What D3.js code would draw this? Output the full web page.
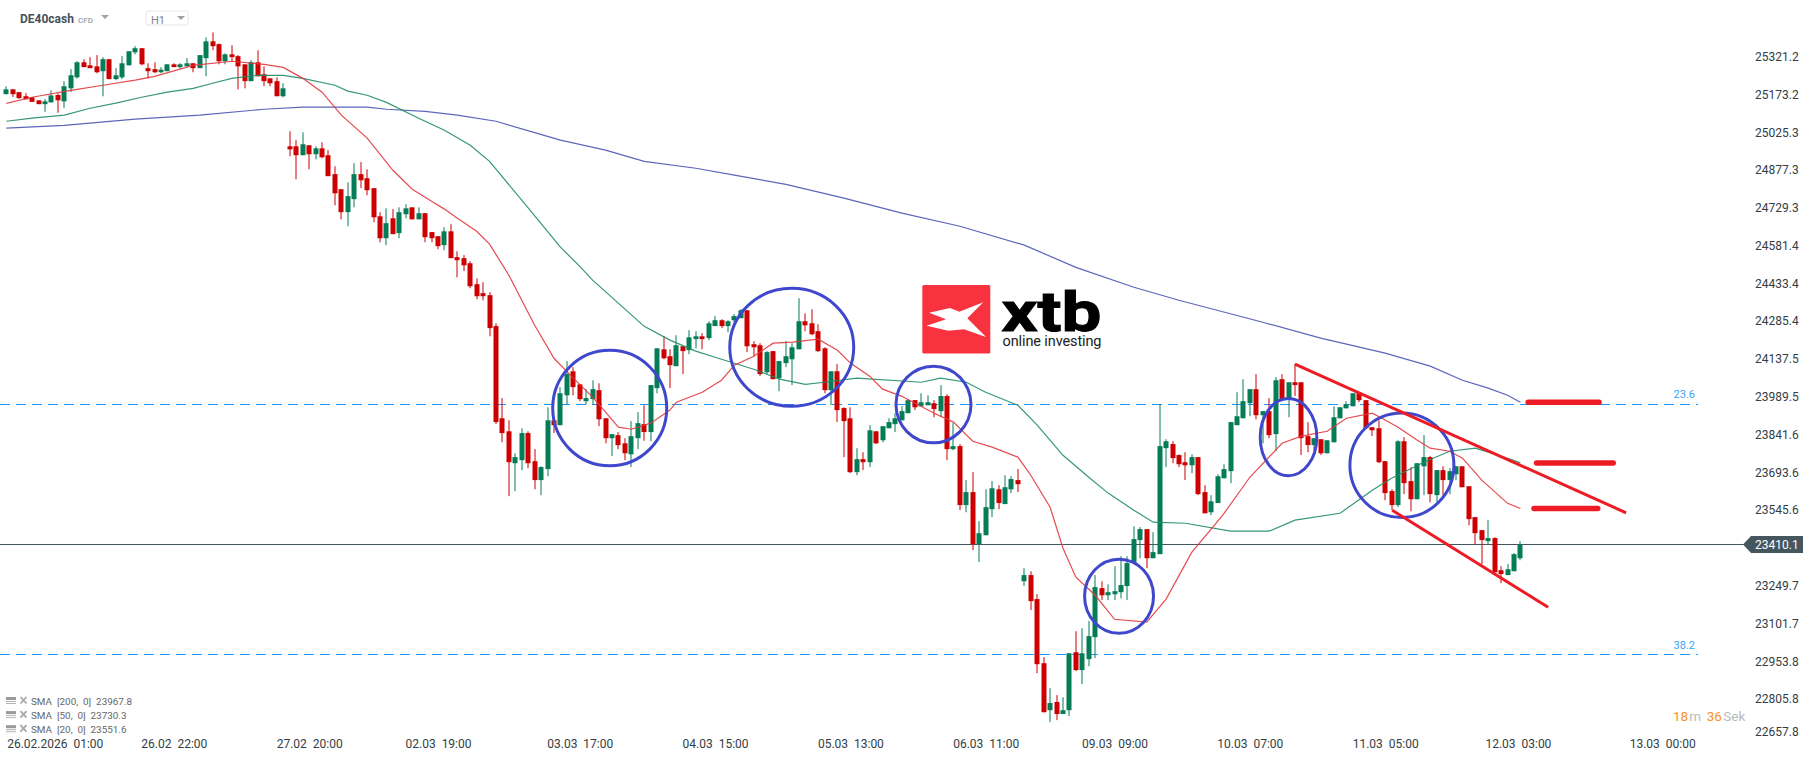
<!DOCTYPE html>
<html><head><meta charset="utf-8">
<script src="https://cdn.jsdelivr.net/npm/d3@7"></script>
<style>
html,body{margin:0;padding:0;background:#fff;overflow:hidden}
svg{display:block}
text{font-family:Roboto,"Noto Sans",sans-serif}
</style></head><body><div id="chart"></div>
<script>
const symbol="DE40cash";
const opens=[25174,25193,25182,25166,25162,25150,25135,25142,25171,25146,
25197,25240,25299,25287,25283,25264,25311,25233,25240,25287,
25338,25354,25276,25272,25260,25264,25291,25280,25283,25295,
25276,25315,25381,25370,25303,25330,25323,25291,25225,25299,
25252,25236,25225,25166,24970,24970,24935,24974,24939,24962,
24935,24861,24802,24712,24763,24861,24845,24806,24696,24610,
24688,24630,24704,24731,24684,24708,24634,24618,24583,24637,
24536,24532,24512,24430,24395,24387,24266,23905,23854,23729,
23741,23847,23737,23663,23706,23897,23878,23995,24089,24038,
23972,23980,24015,23905,23827,23839,23807,23764,23827,23882,
23851,24023,24175,24148,24109,24187,24172,24215,24226,24219,
24266,24289,24266,24289,24297,24328,24195,24191,24085,24168,
24062,24121,24136,24175,24285,24277,24246,24179,24015,24089,
23945,23905,23694,23745,23733,23854,23819,23866,23882,23897,
23925,23976,23952,23956,23964,23933,23992,23784,23796,23565,
23616,23412,23447,23549,23627,23569,23627,23663,23267,23291,
23197,22946,22762,22794,22747,22762,22989,22919,22962,23048,
23240,23212,23216,23224,23248,23338,23428,23471,23357,23373,
23788,23804,23761,23733,23721,23753,23616,23537,23573,23670,
23698,23878,23905,23964,24019,23917,23933,23843,24058,23984,
24046,24046,23835,23800,23823,23768,23811,23905,23944,23952,
24003,23976,23870,23866,23737,23620,23565,23815,23659,23588,
23717,23753,23604,23702,23663,23686,23717,23639,23518,23467,
23424,23436,23310,23291,23306,23357];
const highs=[25205,25193,25182,25178,25162,25150,25155,25189,25178,25225,
25272,25303,25311,25319,25327,25319,25311,25276,25323,25342,
25362,25354,25295,25299,25280,25291,25295,25295,25315,25295,
25327,25396,25416,25373,25334,25366,25327,25291,25307,25346,
25283,25236,25240,25217,25029,24994,25025,24974,24970,24986,
24955,24892,24802,24829,24904,24908,24880,24806,24712,24727,
24724,24731,24743,24731,24731,24708,24634,24618,24653,24665,
24559,24544,24520,24453,24438,24399,24277,23984,23897,23768,
23866,23854,23784,23717,23948,23897,24027,24129,24105,24038,
24019,24054,24042,23905,23843,23851,23827,23894,23929,23956,
24035,24179,24226,24175,24230,24187,24250,24246,24238,24285,
24305,24293,24289,24313,24332,24328,24207,24199,24168,24168,
24129,24207,24199,24375,24316,24332,24273,24183,24089,24117,
23948,23948,23788,23772,23878,23854,23874,23905,23925,23952,
23980,23976,24003,23995,23976,24035,23999,23886,23804,23663,
23694,23502,23627,23659,23643,23682,23678,23706,23318,23306,
23216,22970,22848,22821,22813,22985,23071,23083,23111,23291,
23267,23255,23326,23365,23365,23482,23479,23471,23459,23960,
23823,23815,23764,23772,23764,23753,23643,23604,23686,23725,
23890,24007,24058,24019,24078,23933,23984,24066,24078,24046,
24117,24046,23890,23827,23823,23819,23952,23948,23972,24003,
24003,23976,23870,23897,23737,23627,23819,23831,23713,23729,
23839,23757,23702,23717,23710,23717,23717,23639,23518,23467,
23506,23439,23326,23334,23377,23424];
const lows=[25174,25163,25155,25154,25144,25135,25105,25142,25101,25120,
25182,25235,25280,25276,25256,25166,25233,25229,25233,25287,
25330,25287,25236,25256,25256,25264,25280,25274,25283,25260,
25276,25244,25346,25291,25291,25303,25193,25197,25225,25244,
25205,25205,25166,25162,24931,24841,24935,24880,24919,24923,
24853,24739,24684,24657,24731,24806,24778,24673,24594,24583,
24626,24610,24688,24684,24684,24594,24594,24567,24563,24532,
24457,24481,24414,24371,24367,24226,23882,23811,23600,23620,
23702,23710,23627,23604,23678,23847,23878,23960,23995,23972,
23960,23960,23874,23807,23757,23784,23741,23714,23784,23817,
23815,24003,24136,24023,24109,24078,24156,24179,24175,24211,
24266,24258,24242,24281,24297,24164,24148,24070,24078,24058,
24011,24105,24035,24175,24246,24230,24164,24003,23956,23890,
23753,23690,23682,23702,23714,23804,23811,23866,23851,23897,
23925,23937,23952,23956,23909,23909,23741,23780,23545,23537,
23389,23342,23447,23518,23549,23569,23612,23616,23248,23154,
22907,22754,22715,22723,22747,22739,22915,22864,22934,22966,
23193,23193,23193,23200,23193,23338,23357,23318,23357,23373,
23714,23729,23714,23663,23690,23604,23533,23526,23573,23670,
23651,23878,23905,23913,23901,23807,23827,23776,23976,23909,
23992,23761,23772,23780,23761,23768,23811,23905,23944,23952,
23968,23866,23835,23729,23584,23545,23557,23608,23541,23588,
23604,23576,23576,23604,23608,23663,23635,23486,23412,23334,
23412,23302,23259,23291,23306,23349];
const closes=[25193,25174,25159,25154,25144,25135,25146,25169,25150,25205,
25248,25299,25280,25276,25260,25311,25233,25248,25295,25342,
25354,25291,25264,25260,25270,25291,25280,25291,25295,25276,
25327,25381,25362,25303,25330,25319,25283,25225,25299,25244,
25225,25217,25166,25197,24958,24935,24978,24939,24962,24927,
24853,24786,24712,24775,24861,24837,24798,24692,24610,24669,
24626,24712,24727,24684,24708,24614,24610,24579,24637,24532,
24524,24504,24422,24383,24383,24258,23890,23847,23733,23753,
23847,23729,23663,23714,23897,23878,24003,24078,24027,23980,
23984,24019,23901,23827,23843,23800,23768,23835,23886,23851,
24035,24179,24140,24113,24191,24168,24222,24226,24215,24277,
24289,24266,24285,24305,24328,24187,24183,24078,24164,24058,
24129,24148,24183,24285,24269,24234,24168,24015,24089,23937,
23894,23694,23745,23733,23858,23807,23874,23890,23905,23933,
23976,23948,23968,23968,23941,23992,23784,23796,23565,23616,
23412,23455,23557,23631,23573,23635,23667,23647,23291,23189,
22942,22754,22790,22747,22762,22985,22919,22985,23052,23244,
23212,23224,23228,23252,23338,23432,23471,23357,23381,23796,
23815,23749,23725,23721,23753,23608,23533,23580,23678,23706,
23890,23913,23972,24019,23917,23933,23839,24054,23980,24046,
24035,23827,23800,23827,23768,23819,23909,23948,23960,24003,
23976,23866,23858,23733,23612,23565,23815,23651,23588,23729,
23753,23608,23702,23663,23698,23717,23635,23510,23455,23428,
23436,23302,23295,23314,23373,23410.1];

const sma20Bars=[1,5,11,16,21,24,30,36,41,44,47,50,53,57,61,64,67,69,71,74,76,79,81,83,86,89,92,94,96,98,101,104,105,109,112,114,117,120,123,127,130,132,135,137,140,145,148,151,154,158,160,163,165,167,170,173,178,181,185,188,190,194,199,202,206,209,213,215,217,220,222,225,227,230,234,236];
const sma20Values=[25138,25162,25189,25209,25229,25244,25287,25303,25291,25279,25236,25182,25092,25002,24876,24802,24755,24724,24688,24637,24587,24465,24367,24269,24140,24062,23988,23929,23870,23862,23886,23937,23968,24007,24054,24113,24148,24199,24203,24215,24171,24121,24070,24019,23991,23925,23890,23815,23792,23753,23682,23557,23396,23283,23212,23118,23107,23197,23381,23471,23533,23674,23807,23835,23854,23905,23925,23898,23870,23819,23788,23776,23749,23663,23572,23551.6];
const sma50Bars=[1,5,10,14,18,22,26,30,33,36,40,44,47,52,54,57,60,65,69,73,76,81,87,90,92,100,104,108,111,117,121,125,128,133,143,146,150,153,158,161,165,169,172,176,179,184,191,197,201,208,213,216,221,225,229,233,236];
const sma50Values=[25068,25080,25092,25119,25139,25162,25182,25197,25217,25236,25248,25248,25236,25209,25186,25170,25142,25080,25033,24974,24911,24759,24575,24500,24446,24265,24211,24168,24144,24097,24058,24038,24046,24062,24046,24062,24046,24007,23956,23878,23760,23674,23612,23545,23498,23494,23463,23463,23506,23533,23623,23670,23733,23776,23788,23757,23730.3];
const sma200Bars=[1,10,21,31,41,47,57,60,66,71,77,85,87,94,100,108,114,122,131,140,149,159,167,176,183,196,205,215,222,227,231,234,236];
const sma200Values=[25041,25052,25076,25092,25115,25123,25123,25115,25107,25092,25068,25009,24994,24955,24911,24884,24857,24821,24767,24708,24657,24583,24496,24418,24367,24281,24219,24160,24109,24054,24023,23995,23967.8];

const priceTicks=[25321.2,25173.2,25025.3,24877.3,24729.3,24581.4,24433.4,24285.4,24137.5,23989.5,23841.6,23693.6,23545.6,23249.7,23101.7,22953.8,22805.8,22657.8];
const dateTickBars=[1,27,48,68,90,111,132,153,173,194,215,235.6,258];
const dateTickLabels=["26.02.2026  01:00","26.02  22:00","27.02  20:00","02.03  19:00","03.03  17:00","04.03  15:00","05.03  13:00","06.03  11:00","09.03  09:00","10.03  07:00","11.03  05:00","12.03  03:00","13.03  00:00"];
const lastPrice=23410.1;
const fibLevels=[23959,22980];
const fibLabels=["23.6","38.2"];
const legendLabels=["SMA  [200,  0]  23967.8","SMA  [50,  0]  23730.3","SMA  [20,  0]  23551.6"];
// hand-drawn annotations, in bar / price units
const circleBars=[94.65,122.9,144.9,173.7,200,217.6];
const circlePrices=[23945,24183,23959,23208,23831,23721];
const circleBarRadii=[8.85,9.62,5.82,5.35,4.39,8.07];
const circlePriceRadii=[226,231,150,145,151,205];
const trendBars=[[201,252.4],[216.1,240.3]];
const trendPrices=[[24117,23535],[23545,23165]];
const levelBars=[[237.2,248.2],[238.5,250.4],[238.1,248]];
const levelPrices=[23968,23730,23552];

const W=1815,H=761;
const svg=d3.select("#chart").append("svg").attr("width",W).attr("height",H);
const x=d3.scaleLinear().domain([1,258]).range([6.33,1662.2]);
const y=d3.scaleLinear().domain([25321.2,22805.8]).range([56.6,699]);
const BODY=5, GREEN="#047d56", RED="#cc0000";

// fib levels
svg.append("g").selectAll("line").data(fibLevels).join("line")
 .attr("x1",0).attr("x2",1698).attr("y1",d=>Math.floor(y(d))+.5).attr("y2",d=>Math.floor(y(d))+.5)
 .attr("stroke","#1a94ff").attr("stroke-width",1).attr("stroke-dasharray","10 6");
svg.append("g").selectAll("text").data(fibLevels).join("text")
 .attr("x",1695).attr("y",d=>y(d)-6).attr("text-anchor","end").attr("font-size",11).attr("fill","#3ba4f5")
 .text((d,i)=>fibLabels[i]);

// last-price line
const ly=Math.floor(y(lastPrice))+.5;
svg.append("line").attr("x1",0).attr("x2",1745).attr("y1",ly).attr("y2",ly).attr("stroke","#46565f").attr("stroke-width",1.2);

// candles
const bars=d3.range(opens.length);
const cg=svg.append("g");
cg.selectAll("line").data(bars).join("line")
 .attr("x1",i=>Math.round(x(i+1))).attr("x2",i=>Math.round(x(i+1)))
 .attr("y1",i=>y(highs[i])).attr("y2",i=>y(lows[i]))
 .attr("stroke",i=>closes[i]>=opens[i]?GREEN:RED).attr("stroke-width",1);
cg.selectAll("rect").data(bars).join("rect")
 .attr("x",i=>Math.round(x(i+1))-BODY/2).attr("width",BODY)
 .attr("y",i=>y(Math.max(opens[i],closes[i])))
 .attr("height",i=>Math.max(1,Math.abs(y(opens[i])-y(closes[i]))))
 .attr("fill",i=>closes[i]>=opens[i]?GREEN:RED);

// moving averages
const smaLine=d3.line().x(d=>x(d[0])).y(d=>y(d[1]));
[[sma200Bars,sma200Values,"#4a55b4"],[sma50Bars,sma50Values,"#1f8c66"],[sma20Bars,sma20Values,"#e2373c"]].forEach(([b,v,c])=>{
 svg.append("path").datum(b.map((d,i)=>[d,v[i]])).attr("d",smaLine)
  .attr("fill","none").attr("stroke",c).attr("stroke-width",1.2).attr("stroke-opacity",.9);
});

// annotations
svg.append("g").selectAll("ellipse").data(circleBars).join("ellipse")
 .attr("cx",d=>x(d))
 .attr("cy",(d,i)=>y(circlePrices[i]))
 .attr("rx",(d,i)=>x(1+circleBarRadii[i])-x(1))
 .attr("ry",(d,i)=>y(0)-y(circlePriceRadii[i]))
 .attr("fill","none").attr("stroke","#3f48cc").attr("stroke-width",3);
svg.append("g").selectAll("line").data(trendBars).join("line")
 .attr("x1",d=>x(d[0])).attr("x2",d=>x(d[1]))
 .attr("y1",(d,i)=>y(trendPrices[i][0])).attr("y2",(d,i)=>y(trendPrices[i][1]))
 .attr("stroke","#ed1c24").attr("stroke-width",3);
svg.append("g").selectAll("line").data(levelBars).join("line")
 .attr("x1",d=>x(d[0])).attr("x2",d=>x(d[1]))
 .attr("y1",(d,i)=>y(levelPrices[i])).attr("y2",(d,i)=>y(levelPrices[i]))
 .attr("stroke","#ed1c24").attr("stroke-width",5.5).attr("stroke-linecap","round");

// price axis
const yAxis=svg.append("g").attr("transform","translate(1755,0)")
 .call(d3.axisRight(y).tickValues(priceTicks).tickSize(0).tickPadding(0).tickFormat(d3.format(".1f")));
yAxis.select(".domain").remove();
yAxis.selectAll("text").attr("x",0).attr("font-size",12).attr("font-family","Roboto").attr("fill","#333d45");
yAxis.selectAll(".tick").filter(d=>d===22657.8).attr("transform",`translate(0,731.7)`);

// last-price tag
svg.append("path").attr("d",`M1743,${ly} L1751,536 H1803 V553 H1751 Z`).attr("fill","#46565f");
svg.append("text").attr("x",1755).attr("y",ly+4.5).attr("font-size",12).attr("fill","#fff").text(lastPrice.toFixed(1));

// time axis
const xAxis=svg.append("g").attr("transform","translate(0,739)")
 .call(d3.axisBottom(x).tickValues(dateTickBars).tickSize(0).tickPadding(0).tickFormat((d,i)=>dateTickLabels[i]));
xAxis.select(".domain").remove();
xAxis.selectAll("text").attr("font-size",12).attr("font-family","Roboto").attr("fill","#333d45").style("white-space","pre").attr("dy","0.71em");
xAxis.selectAll("text").filter((d,i)=>i===0).attr("text-anchor","start").attr("x",0.4);

// header
svg.append("text").attr("x",20).attr("y",23).attr("font-size",12).attr("font-weight",700).attr("fill","#44525c").text(symbol);
svg.append("text").attr("x",78).attr("y",23).attr("font-size",8).attr("font-weight",500).attr("fill","#9aa3a9").text("CFD");
svg.append("path").attr("d","M101,15 h8 l-4,4 z").attr("fill","#9aa3a9");
svg.append("rect").attr("x",146).attr("y",11).attr("width",42).attr("height",14).attr("rx",2).attr("fill","#fff").attr("stroke","#e4e6e8");
svg.append("text").attr("x",151).attr("y",24).attr("font-size",11).attr("fill","#7d868c").text("H1");
svg.append("path").attr("d","M177,16 h8 l-4,4 z").attr("fill","#9aa3a9");

// legend
const lg=svg.append("g").selectAll("g").data(legendLabels).join("g").attr("transform",(d,i)=>`translate(0,${701+i*14.1})`);
lg.append("rect").attr("x",6).attr("y",-4).attr("width",10).attr("height",3).attr("fill","#9a9a9a");
lg.append("rect").attr("x",6).attr("y",0).attr("width",10).attr("height",1).attr("fill","#b5b5b5");
lg.append("rect").attr("x",6).attr("y",2).attr("width",10).attr("height",1).attr("fill","#b5b5b5");
lg.append("path").attr("d","M20.5,-4 L26.5,2.5 M26.5,-4 L20.5,2.5").attr("stroke","#a8a8a8").attr("stroke-width",1.8);
lg.append("text").attr("x",31).attr("y",3.5).attr("font-size",9.9).attr("fill","#666").style("white-space","pre").text(d=>d);

// countdown
const timer=svg.append("text").attr("y",721).attr("font-size",13.5);
timer.append("tspan").attr("x",1673).attr("fill","#f7931e").text("18");
timer.append("tspan").attr("x",1689.3).attr("fill","#b6bcc0").text("m");
timer.append("tspan").attr("x",1706.7).attr("fill","#f7931e").text("36");
timer.append("tspan").attr("x",1723.3).attr("fill","#b6bcc0").text("Sek");

// logo
svg.append("rect").attr("x",922.3).attr("y",285).attr("width",68).attr("height",68.5).attr("rx",1.5).attr("fill","#f8323f");
svg.append("polygon").attr("points","929,312.7 950,308 959.3,311.7 983.3,302.3 967.3,318.3 986,337 964,329.3 948.3,330.7 926.7,325.7 946,319.3").attr("fill","#fff");
svg.append("text").attr("x",1001.5).attr("y",330.5).attr("font-size",56).attr("font-weight",700).attr("textLength",100).attr("lengthAdjust","spacingAndGlyphs").attr("font-family","Liberation Sans").attr("fill","#000").attr("stroke","#000").attr("stroke-width",1).text("xtb");
svg.append("text").attr("x",1002.5).attr("y",346).attr("font-size",14.5).attr("textLength",99).attr("font-family","Lato").attr("fill","#222").text("online investing");
</script></body></html>
